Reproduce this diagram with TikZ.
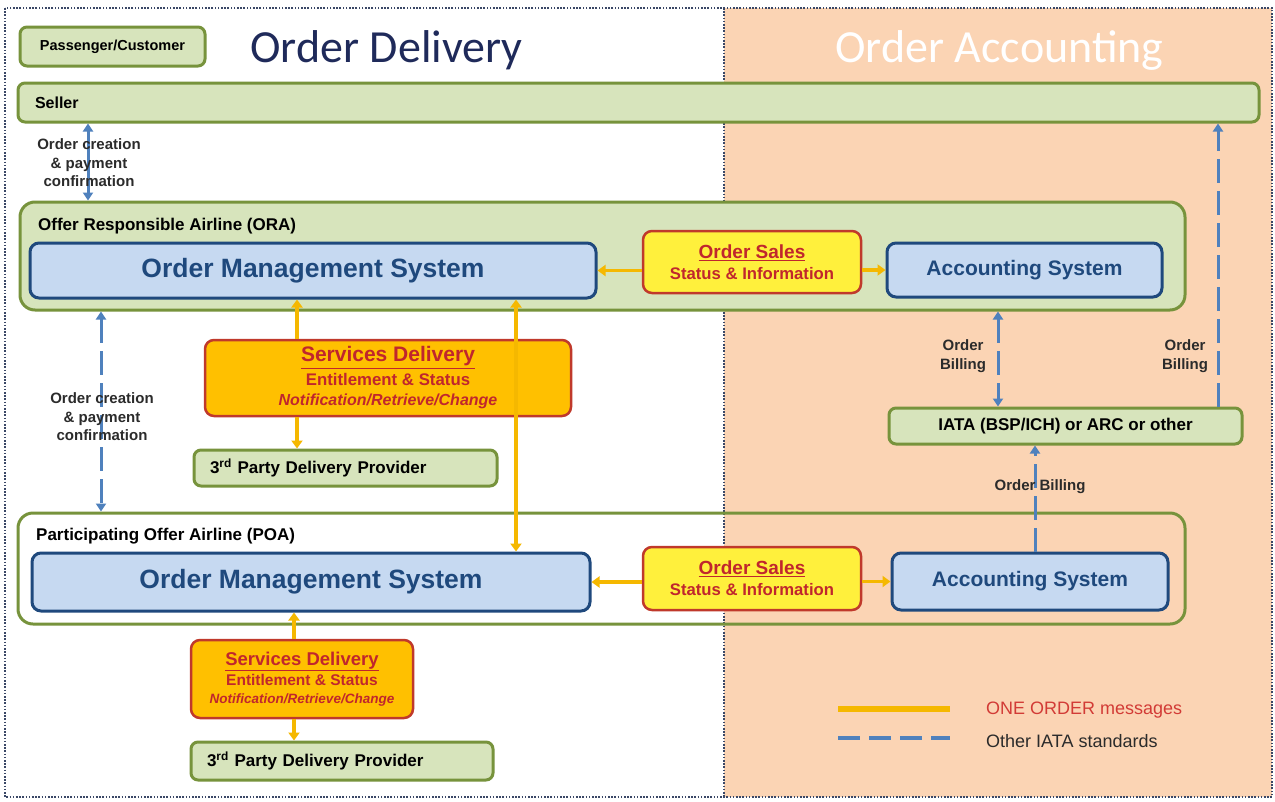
\documentclass[tikz,border=0pt]{standalone}
\usepackage{fontspec}
\setmainfont{Liberation Sans}
\newfontfamily\titlefont{Carlito}
\usetikzlibrary{arrows.meta}
\definecolor{gfill}{HTML}{D7E4BC}
\definecolor{gdraw}{HTML}{77933C}
\definecolor{peach}{HTML}{FBD4B4}
\definecolor{bfill}{HTML}{C6D9F1}
\definecolor{bdraw}{HTML}{1F497D}
\definecolor{btext}{HTML}{1F497D}
\definecolor{yfill}{HTML}{FFF03C}
\definecolor{ofill}{HTML}{FFC000}
\definecolor{rdraw}{HTML}{C0392B}
\definecolor{rtext}{HTML}{C0262D}
\definecolor{oarrow}{HTML}{F5B800}
\definecolor{barrow}{HTML}{4F81BD}
\definecolor{ltext}{HTML}{2B2B2B}
\definecolor{navy}{HTML}{1F2A5A}
\definecolor{framec}{HTML}{3A4766}
\definecolor{legred}{HTML}{D23B36}
\newcommand\fsz[2]{\fontsize{#1}{#2}\selectfont}
\begin{document}
\begin{tikzpicture}[x=1pt,y=-1pt,
  gbox/.style={draw=gdraw, fill=gfill, line width=3pt, rounded corners=7pt, inner sep=0pt, text=black},
  container/.style={draw=gdraw, line width=3pt, rounded corners=15pt, inner sep=0pt},
  bbox/.style={draw=bdraw, fill=bfill, line width=3pt, rounded corners=9pt, inner sep=0pt, text=btext},
  ybox/.style={draw=rdraw, fill=yfill, line width=2.5pt, rounded corners=9pt, inner sep=0pt, text=rtext, align=center},
  obox/.style={draw=rdraw, fill=ofill, line width=2.5pt, rounded corners=9pt, inner sep=0pt, text=rtext, align=center},
  oarr/.style={draw=oarrow, line width=3.5pt, -{Triangle[width=11pt,length=8pt]}},
  oarrb/.style={draw=oarrow, line width=3.5pt, {Triangle[width=11pt,length=8pt]}-{Triangle[width=11pt,length=8pt]}},
  barr/.style={draw=barrow, line width=3pt, dash pattern=on 24pt off 8pt},
  btip/.style={-{Triangle[width=10pt,length=8pt]}},
  btips/.style={{Triangle[width=10pt,length=8pt]}-{Triangle[width=10pt,length=8pt]}},
  lbl/.style={text=ltext, font=\bfseries\fsz{15}{18.5}, align=center, inner sep=0pt}
]
\useasboundingbox (0,0) rectangle (1275,801);
% background regions
\fill[white] (0,0) rectangle (1275,801);
\fill[peach] (724,8) rectangle (1272,797);
\draw[framec, line width=1.6pt, dash pattern=on 1.6pt off 1.6pt] (5,8) rectangle (1272,797);
\draw[framec, line width=1.6pt, dash pattern=on 1.6pt off 1.6pt] (724,8) -- (724,797);

% titles
\node[anchor=base, text=navy, inner sep=0pt] (tdel) at (386.5,62) {\titlefont\fsz{46}{50}Order Delivery};
\node[anchor=base, text=white, inner sep=0pt] (tacc) at (999.5,62) {\titlefont\fsz{46}{50}Order Accounting};

% top boxes
\node[gbox, minimum width=185pt, minimum height=39pt, font=\bfseries\fsz{14.5}{17}] (pass) at (112.5,46.5) {Passenger/Customer};
\node[gbox, minimum height=39pt, text width=1207pt, inner xsep=17pt, align=left, font=\bfseries\fsz{16}{18}] (seller) at (638.5,102.5) {Seller};

% containers
\node[container, fill=gfill, minimum width=1165pt, minimum height=108pt] (ora) at (602.5,256) {};
\node[anchor=west, inner sep=0pt, font=\bfseries\fsz{17}{20}] (oralbl) at (38,226) {Offer Responsible Airline (ORA)};
\node[container, minimum width=1167pt, minimum height=111pt] (poa) at (601.5,568.5) {};
\node[anchor=west, inner sep=0pt, font=\bfseries\fsz{17}{20}] (poalbl) at (36,536) {Participating Offer Airline (POA)};

% ORA row
\node[bbox, minimum width=566pt, minimum height=55pt, font=\bfseries\fsz{26.5}{30}] (oms1) at (313,270.5) {Order Management System};
\node[ybox, minimum width=218pt, minimum height=62pt, font=\bfseries\fsz{16.7}{21}] (os1) at (752,262) {\fsz{19}{21}\underline{Order Sales}\\\fsz{16.7}{21}Status \& Information};
\node[bbox, minimum width=275pt, minimum height=54pt, font=\bfseries\fsz{21}{24}] (acc1) at (1024.5,270) {Accounting System};

% services delivery 1
\node[obox, minimum width=366pt, minimum height=76pt, font=\bfseries\fsz{16}{20.5}] (sd1) at (388,378) {\fsz{21}{20.5}\underline{Services Delivery}\\[3pt]\fsz{16.8}{20.5}Entitlement \& Status\\\fsz{16}{20.5}\itshape Notification/Retrieve/Change};
\node[gbox, minimum height=36pt, text width=271pt, inner xsep=16pt, align=left, font=\bfseries\fsz{17}{20}] (tp1) at (345.5,468) {3\textsuperscript{rd} Party Delivery Provider};

% POA row
\node[bbox, minimum width=558pt, minimum height=58pt, font=\bfseries\fsz{26.5}{30}] (oms2) at (311,582) {Order Management System};
\node[ybox, minimum width=218pt, minimum height=63pt, font=\bfseries\fsz{16.7}{21}] (os2) at (752,578.5) {\fsz{19}{21}\underline{Order Sales}\\\fsz{16.7}{21}Status \& Information};
\node[bbox, minimum width=276pt, minimum height=57pt, font=\bfseries\fsz{21}{24}] (acc2) at (1030,581.5) {Accounting System};

% services delivery 2
\node[obox, minimum width=222pt, minimum height=78pt, font=\bfseries\fsz{14}{17.5}] (sd2) at (302,679) {\fsz{18.5}{17.5}\underline{Services Delivery}\\[3pt]\fsz{15.5}{17.5}Entitlement \& Status\\\fsz{13.5}{17.5}\itshape Notification/Retrieve/Change};
\node[gbox, minimum height=38pt, text width=270pt, inner xsep=16pt, align=left, font=\bfseries\fsz{17}{20}] (tp2) at (342,761) {3\textsuperscript{rd} Party Delivery Provider};

% IATA
\node[gbox, minimum width=353pt, minimum height=36pt, font=\bfseries\fsz{17}{20}] (iata) at (1065.5,426) {IATA (BSP/ICH) or ARC or other};

% helper x positions
\coordinate (x88) at (88,0);
\coordinate (x101) at (101,0);
\coordinate (x297) at (297,0);
\coordinate (x516) at (516,0);
\coordinate (x294) at (294,0);
\coordinate (x998) at (998,0);
\coordinate (x1218) at (1218,0);
\coordinate (x1035) at (1035,0);

% orange arrows
\draw[oarr] (os1.west |- oms1.east) -- (oms1.east);
\draw[oarr] (os1.east |- acc1.west) -- (acc1.west);
\draw[oarr] (x297 |- sd1.north) -- (x297 |- oms1.south);
\draw[oarr] (x297 |- sd1.south) -- (x297 |- tp1.north);
\draw[oarrb] (x516 |- oms1.south) -- (x516 |- oms2.north);
\draw[oarr] (os2.west |- oms2.east) -- (oms2.east);
\draw[oarr] (os2.east |- acc2.west) -- (acc2.west);
\draw[oarr] (x294 |- sd2.north) -- (x294 |- oms2.south);
\draw[oarr] (x294 |- sd2.south) -- (x294 |- tp2.north);

% blue arrows
\draw[draw=barrow, line width=3pt, btips] (x88 |- seller.south) -- (x88 |- ora.north);
\draw[barr, btips] (x101 |- ora.south) -- (x101 |- poa.north);
\draw[barr, btips] (x998 |- ora.south) -- (x998 |- iata.north);
\draw[barr, btip] (x1218 |- iata.north) -- (x1218 |- seller.south);
\draw[barr, btip] (x1035 |- acc2.north) -- (x1035 |- iata.south);

% labels
\node[lbl] (l1) at (89,163) {Order creation\\\& payment\\confirmation};
\node[lbl] (l2) at (102,417) {Order creation\\\& payment\\confirmation};
\node[lbl] (l3) at (963,356) {Order\\Billing};
\node[lbl] (l4) at (1185,356) {Order\\Billing};
\node[lbl] (l5) at (1040,487) {Order Billing};

% legend
\coordinate (lgA) at (838,709);
\coordinate (lgB) at (950,709);
\coordinate (lgC) at (838,738);
\coordinate (lgD) at (950,738);
\draw[draw=oarrow, line width=6pt] (lgA) -- (lgB);
\draw[draw=barrow, line width=4pt, dash pattern=on 22pt off 9pt] (lgC) -- (lgD);
\node[anchor=west, inner sep=0pt, text=legred, font=\fsz{18}{20}] (lg1) at (986,710) {ONE ORDER messages};
\node[anchor=west, inner sep=0pt, text=ltext, font=\fsz{18}{20}] (lg2) at (986,741) {Other IATA standards};
\end{tikzpicture}
\end{document}
